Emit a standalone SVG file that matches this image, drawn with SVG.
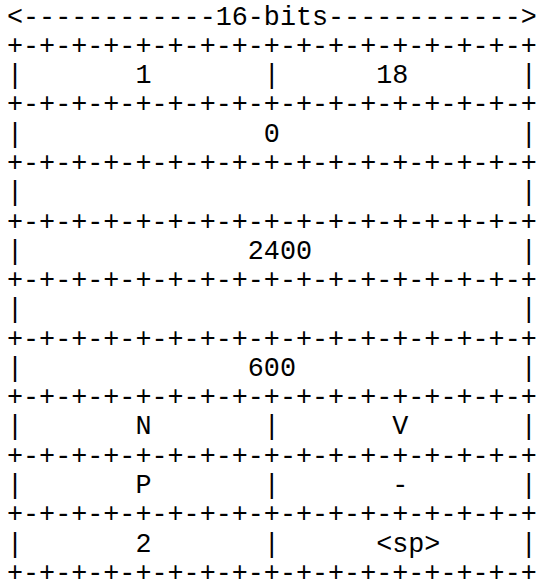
<svg xmlns="http://www.w3.org/2000/svg" width="537" height="585" viewBox="0 0 537 585">
<style>
  .t { font-family: "Liberation Mono", "DejaVu Sans Mono", monospace; font-size: 26.75px; fill: #000; white-space: pre; }
</style>
<rect width="537" height="585" fill="#fff"/>
<g id="diagram">
  <text class="t" x="7" y="24.5">&lt;------------16-bits------------&gt;</text>
  <text class="t" x="7" y="53.8">+-+-+-+-+-+-+-+-+-+-+-+-+-+-+-+-+</text>
  <text class="t" x="7" y="83.1">|       1       |      18       |</text>
  <text class="t" x="7" y="112.3">+-+-+-+-+-+-+-+-+-+-+-+-+-+-+-+-+</text>
  <text class="t" x="7" y="141.6">|               0               |</text>
  <text class="t" x="7" y="170.9">+-+-+-+-+-+-+-+-+-+-+-+-+-+-+-+-+</text>
  <text class="t" x="7" y="200.2">|                               |</text>
  <text class="t" x="7" y="229.5">+-+-+-+-+-+-+-+-+-+-+-+-+-+-+-+-+</text>
  <text class="t" x="7" y="258.7">|              2400             |</text>
  <text class="t" x="7" y="288">+-+-+-+-+-+-+-+-+-+-+-+-+-+-+-+-+</text>
  <text class="t" x="7" y="317.3">|                               |</text>
  <text class="t" x="7" y="346.6">+-+-+-+-+-+-+-+-+-+-+-+-+-+-+-+-+</text>
  <text class="t" x="7" y="375.9">|              600              |</text>
  <text class="t" x="7" y="405.1">+-+-+-+-+-+-+-+-+-+-+-+-+-+-+-+-+</text>
  <text class="t" x="7" y="434.4">|       N       |       V       |</text>
  <text class="t" x="7" y="463.7">+-+-+-+-+-+-+-+-+-+-+-+-+-+-+-+-+</text>
  <text class="t" x="7" y="493">|       P       |       -       |</text>
  <text class="t" x="7" y="522.3">+-+-+-+-+-+-+-+-+-+-+-+-+-+-+-+-+</text>
  <text class="t" x="7" y="551.5">|       2       |      &lt;sp&gt;     |</text>
  <text class="t" x="7" y="580.8">+-+-+-+-+-+-+-+-+-+-+-+-+-+-+-+-+</text>
</g>
</svg>
